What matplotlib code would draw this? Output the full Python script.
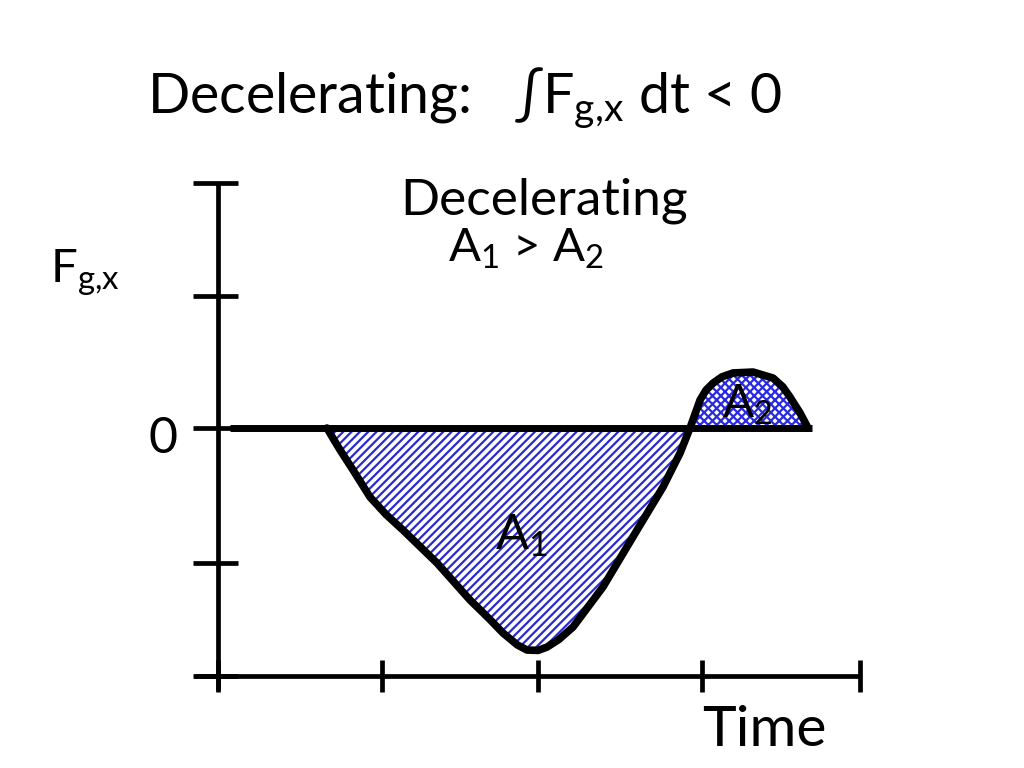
import matplotlib
matplotlib.use('Agg')
import matplotlib.pyplot as plt
# Import modules.

plt.rcParams['font.family'] = ['Lato', 'DejaVu Sans']
plt.rcParams['mathtext.fontset'] = 'custom'
plt.rcParams['mathtext.rm'] = 'Lato'
plt.rcParams['mathtext.default'] = 'regular'
plt.rcParams['hatch.linewidth'] = 1.6
# Font and hatch settings.

dip_t = [0.681, 0.725, 0.763, 0.844, 0.950, 1.050, 1.156, 1.369, 1.575, 1.700, 1.781, 1.870, 1.931, 2.000,
         2.056, 2.130, 2.219, 2.406, 2.619, 2.781, 2.888, 2.950]
dip_f = [0.0, -0.090, -0.165, -0.316, -0.519, -0.650, -0.767, -1.015, -1.293, -1.440, -1.541, -1.630,
         -1.669, -1.672, -1.647, -1.590, -1.496, -1.195, -0.767, -0.444, -0.188, 0.0]
# Negative lobe of the force curve (area A1).

hump_t = [2.950, 3.013, 3.050, 3.094, 3.150, 3.219, 3.344, 3.469, 3.530, 3.575, 3.638, 3.688]
hump_f = [0.0, 0.211, 0.285, 0.338, 0.385, 0.414, 0.421, 0.376, 0.310, 0.233, 0.113, 0.0]
# Positive lobe of the force curve (area A2).

y_ticks = [1.842, 0.992, 0.0, -1.015, -1.865]
x_ticks = [0.0, 1.025, 2.0, 3.025, 4.01]
# Tick positions on the hand drawn axes.

fig = plt.figure(figsize = (10.24, 7.68), dpi = 100)
ax = fig.add_axes([0, 0, 1, 1])
ax.set_xlim(-1.3625, 5.0375)
ax.set_ylim(-2.556, 3.218)
ax.axis('off')
# Canvas setup.

ax.fill_between(dip_t, dip_f, 0, facecolor = 'white', edgecolor = '#2a2ad0', hatch = '////', linewidth = 0)
ax.fill_between(hump_t, hump_f, 0, facecolor = 'white', edgecolor = '#2a2ae0', hatch = 'xxxx', linewidth = 0)
# Hatched areas.

ax.plot([0, 0], [y_ticks[0], -1.97], color = 'black', lw = 3.4, solid_capstyle = 'butt')
ax.plot([-0.144, x_ticks[-1]], [y_ticks[-1], y_ticks[-1]], color = 'black', lw = 3.4, solid_capstyle = 'butt')
for yt in y_ticks:
    ax.plot([-0.156, 0.125], [yt, yt], color = 'black', lw = 3.4, solid_capstyle = 'butt')
for xt in x_ticks:
    ax.plot([xt, xt], [-1.744, -1.985], color = 'black', lw = 3.4, solid_capstyle = 'butt')
# Axes and ticks.

ax.plot([0.075, 3.71], [0, 0], color = 'black', lw = 5, solid_capstyle = 'butt')
ax.plot(dip_t + hump_t[1:], dip_f + hump_f[1:], color = 'black', lw = 5.5, solid_joinstyle = 'round',
        solid_capstyle = 'round')
# Zero line and force curve.

ax.text(-0.444, 2.376, r'Decelerating:   ∫F$_{g{,}x}$ dt < 0', fontsize = 40, va = 'baseline')
ax.text(1.1375, 1.602, 'Decelerating', fontsize = 37, va = 'baseline')
ax.text(1.4375, 1.248, r'A$_1$ > A$_2$', fontsize = 34, va = 'baseline')
ax.text(-1.05, 1.09, r'F$_{g{,}x}$', fontsize = 34, va = 'baseline')
ax.text(-0.4375, -0.188, '0', fontsize = 36, va = 'baseline')
ax.text(3.025, -2.39, 'Time', fontsize = 41, va = 'baseline')
ax.text(1.73, -0.917, r'A$_1$', fontsize = 35, va = 'baseline')
ax.text(3.15, 0.075, r'A$_2$', fontsize = 33, va = 'baseline')
# Labels.

plt.savefig('out.png', dpi = 100)
